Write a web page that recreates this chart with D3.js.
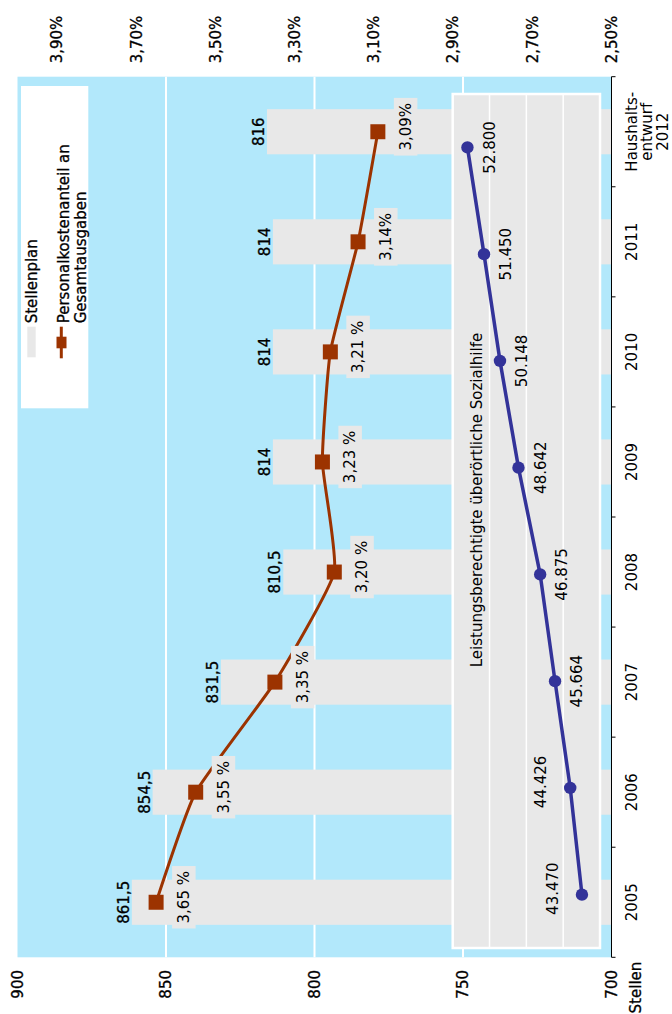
<!DOCTYPE html>
<html lang="de">
<head>
<meta charset="utf-8">
<title>Stellenplan und Personalkostenanteil</title>
<script src="https://cdn.jsdelivr.net/npm/d3@7/dist/d3.min.js"></script>
<style>
  html, body { margin: 0; padding: 0; background: #fff; }
  svg, svg text { font-family: "DejaVu Sans"; }
  svg { display: block; }
  .heavy { stroke: #000; stroke-width: 0.3px; paint-order: stroke; }
</style>
</head>
<body>
<svg id="chart" width="672" height="1014" font-family="DejaVu Sans"></svg>
<script>
/* ── Data ───────────────────────────────────────────────── */
const CATEGORIES      = ['2005', '2006', '2007', '2008', '2009', '2010', '2011', '2012'];
const CATEGORY_LINES  = [['2005'], ['2006'], ['2007'], ['2008'], ['2009'], ['2010'], ['2011'],
                         ['Haushalts-', 'entwurf', '2012']];
const STELLENPLAN     = [861.5, 854.5, 831.5, 810.5, 814, 814, 814, 816];
const PERSONAL_PCT    = [3.65, 3.55, 3.35, 3.20, 3.23, 3.21, 3.14, 3.09];
const PERSONAL_LABELS = ['3,65 %', '3,55 %', '3,35 %', '3,20 %', '3,23 %', '3,21 %', '3,14%', '3,09%'];
const LEISTUNG        = [43470, 44426, 45664, 46875, 48642, 50148, 51450, 52800];

const STELLEN_TICKS = [700, 750, 800, 850, 900];
const PCT_TICKS     = [2.5, 2.7, 2.9, 3.1, 3.3, 3.5, 3.7, 3.9];
const INSET_TICKS   = [42000, 45000, 48000, 51000, 54000];

/* ── Layout (unrotated frame, 1014 wide x 672 high) ─────── */
const FRAME = { w: 1014, h: 672 };
const PLOT  = { left: 56.7, right: 937.3, top: 17.5, bottom: 611.5 };
const INSET = { left: 66, right: 920, top: 452.7, bottom: 600 };

const C = {
  plotBg: '#b2e8fb',
  bar:    '#e8e8e8',
  orange: '#9c3300',
  blue:   '#333399',
  text:   '#000'
};

const de = d3.formatLocale({ decimal: ',', thousands: '.', grouping: [3], currency: ['', ' €'] });
const fmtStellen = de.format(',.1~f');
const fmtThousand = de.format(',');
const fmtPct = v => de.format('.2f')(v) + '%';

/* ── Scales ─────────────────────────────────────────────── */
const x = d3.scaleBand()
  .domain(CATEGORIES)
  .range([PLOT.left, PLOT.right])
  .paddingInner(0.59)
  .paddingOuter(0.295);

const yL = d3.scaleLinear().domain([700, 900]).range([PLOT.bottom, PLOT.top]);
const yR = d3.scaleLinear().domain([2.5, 4.0]).range([PLOT.bottom, PLOT.top]);

const xi = d3.scaleBand().domain(CATEGORIES).range([INSET.left, INSET.right]);
const yi = d3.scaleLinear().domain([42000, 54000]).range([INSET.bottom, INSET.top]);

const cx  = c => x(c) + x.bandwidth() / 2;
const cxi = c => xi(c) + xi.bandwidth() / 2;

/* ── Root: draw unrotated, then turn 90° counter-clockwise ─ */
const svg = d3.select('#chart');
const g = svg.append('g').attr('transform', `translate(0,${FRAME.w}) rotate(-90)`);

function drawPlotArea() {
  g.append('rect')
    .attr('x', PLOT.left).attr('y', PLOT.top)
    .attr('width', PLOT.right - PLOT.left)
    .attr('height', PLOT.bottom - PLOT.top)
    .attr('fill', C.plotBg);

  g.append('g').selectAll('line')
    .data(STELLEN_TICKS.filter(t => t > 700 && t < 900))
    .join('line')
    .attr('x1', PLOT.left).attr('x2', PLOT.right)
    .attr('y1', d => yL(d)).attr('y2', d => yL(d))
    .attr('stroke', '#fff').attr('stroke-width', 2);
}

/* ── Stellenplan bars ───────────────────────────────────── */
function drawBars() {
  const data = CATEGORIES.map((c, i) => ({ c, v: STELLENPLAN[i] }));

  g.append('g').selectAll('rect')
    .data(data)
    .join('rect')
    .attr('x', d => x(d.c))
    .attr('width', x.bandwidth())
    .attr('y', d => yL(d.v))
    .attr('height', d => yL(700) - yL(d.v))
    .attr('fill', C.bar);

  g.append('g').selectAll('text')
    .data(data)
    .join('text')
    .attr('class', 'heavy')
    .attr('x', d => cx(d.c))
    .attr('y', d => yL(d.v) - 3)
    .attr('text-anchor', 'middle')
    .attr('font-size', 15)
    .attr('fill', C.text)
    .text(d => fmtStellen(d.v));
}

/* ── Inset: Leistungsberechtigte ────────────────────────── */
function drawInset() {
  const ig = g.append('g');

  ig.append('rect')
    .attr('x', INSET.left).attr('y', INSET.top)
    .attr('width', INSET.right - INSET.left)
    .attr('height', INSET.bottom - INSET.top)
    .attr('fill', C.bar)
    .attr('stroke', '#fff').attr('stroke-width', 2.5);

  ig.selectAll('line.grid')
    .data(INSET_TICKS.slice(1, -1))
    .join('line')
    .attr('class', 'grid')
    .attr('x1', INSET.left).attr('x2', INSET.right)
    .attr('y1', d => yi(d)).attr('y2', d => yi(d))
    .attr('stroke', '#fff').attr('stroke-width', 1.5);

  ig.append('text')
    .attr('x', 514).attr('y', 476.7)
    .attr('dy', '0.35em')
    .attr('text-anchor', 'middle')
    .attr('font-size', 15)
    .attr('fill', C.text)
    .text('Leistungsberechtigte überörtliche Sozialhilfe');

  const data = CATEGORIES.map((c, i) => ({ c, v: LEISTUNG[i], i }));

  ig.append('path')
    .datum(data)
    .attr('fill', 'none')
    .attr('stroke', C.blue)
    .attr('stroke-width', 3.5)
    .attr('d', d3.line().x(d => cxi(d.c)).y(d => yi(d.v)));

  ig.selectAll('circle')
    .data(data)
    .join('circle')
    .attr('cx', d => cxi(d.c))
    .attr('cy', d => yi(d.v))
    .attr('r', 6.2)
    .attr('fill', C.blue);

  // first two labels sit above the line, the rest below
  ig.selectAll('text.val')
    .data(data)
    .join('text')
    .attr('class', 'val')
    .attr('x', d => cxi(d.c) + (d.i < 2 ? 6 : 0))
    .attr('y', d => yi(d.v) + (d.i < 2 ? -29 : 22))
    .attr('dy', '0.35em')
    .attr('text-anchor', 'middle')
    .attr('font-size', 15)
    .attr('fill', C.text)
    .text(d => fmtThousand(d.v));
}

/* ── Personalkostenanteil line ──────────────────────────── */
function drawPersonal() {
  const data = CATEGORIES.map((c, i) => ({ c, v: PERSONAL_PCT[i], label: PERSONAL_LABELS[i] }));

  g.append('path')
    .datum(data)
    .attr('fill', 'none')
    .attr('stroke', C.orange)
    .attr('stroke-width', 3)
    .attr('d', d3.line().curve(d3.curveCardinal.tension(0.55))
      .x(d => cx(d.c)).y(d => yR(d.v)));

  g.append('g').selectAll('rect')
    .data(data)
    .join('rect')
    .attr('x', d => cx(d.c) - 7.5)
    .attr('y', d => yR(d.v) - 7.5)
    .attr('width', 15).attr('height', 15)
    .attr('fill', C.orange);

  const lab = g.append('g').selectAll('g')
    .data(data)
    .join('g')
    .attr('transform', d => `translate(${cx(d.c) + 5},${yR(d.v) + 16})`);

  const boxes = lab.append('rect').attr('fill', C.bar);
  const texts = lab.append('text')
    .attr('y', 11.8)
    .attr('dy', '0.35em')
    .attr('text-anchor', 'middle')
    .attr('font-size', 15)
    .attr('fill', C.text)
    .text(d => d.label);

  texts.each(function(d, i) {
    const w = this.getComputedTextLength() + 10;
    d3.select(boxes.nodes()[i])
      .attr('x', -w / 2).attr('y', 0)
      .attr('width', w).attr('height', 23.5);
  });
}

/* ── Axes ───────────────────────────────────────────────── */
function drawAxes() {
  // category axis
  const ax = g.append('g');
  ax.append('line')
    .attr('x1', PLOT.left).attr('x2', PLOT.right)
    .attr('y1', PLOT.bottom).attr('y2', PLOT.bottom)
    .attr('stroke', '#000').attr('stroke-width', 1);

  ax.selectAll('line.tick')
    .data(d3.range(CATEGORIES.length + 1))
    .join('line')
    .attr('class', 'tick')
    .attr('x1', i => PLOT.left + i * x.step())
    .attr('x2', i => PLOT.left + i * x.step())
    .attr('y1', PLOT.bottom).attr('y2', PLOT.bottom + 4)
    .attr('stroke', '#000').attr('stroke-width', 1);

  ax.selectAll('text')
    .data(CATEGORIES.map((c, i) => ({ c, lines: CATEGORY_LINES[i] })))
    .join('text')
    .attr('text-anchor', 'middle')
    .attr('font-size', 15)
    .attr('fill', C.text)
    .each(function(d) {
      d3.select(this).selectAll('tspan')
        .data(d.lines)
        .join('tspan')
        .attr('x', cx(d.c))
        .attr('y', (_, j) => PLOT.bottom + 20 + j * 15.4)
        .attr('dy', '0.35em')
        .text(s => s);
    });

  // left axis: Stellen
  const al = g.append('g');
  al.selectAll('text')
    .data(STELLEN_TICKS)
    .join('text')
    .attr('class', 'heavy')
    .attr('x', PLOT.left - 12.7)
    .attr('y', d => yL(d))
    .attr('dy', '0.35em')
    .attr('text-anchor', 'end')
    .attr('font-size', 15)
    .attr('fill', C.text)
    .text(d => d);

  al.append('text')
    .attr('class', 'heavy')
    .attr('x', 52.3)
    .attr('y', 636)
    .attr('dy', '0.35em')
    .attr('text-anchor', 'end')
    .attr('font-size', 15)
    .attr('fill', C.text)
    .text('Stellen');

  // right axis: percent
  g.append('g').selectAll('text')
    .data(PCT_TICKS)
    .join('text')
    .attr('class', 'heavy')
    .attr('x', PLOT.right + 13.4)
    .attr('y', d => yR(d))
    .attr('dy', '0.35em')
    .attr('text-anchor', 'start')
    .attr('font-size', 15)
    .attr('fill', C.text)
    .text(d => fmtPct(d));
}

/* ── Legend ─────────────────────────────────────────────── */
function drawLegend() {
  const lg = g.append('g');
  lg.append('rect')
    .attr('x', 605.7).attr('y', 21)
    .attr('width', 322.3).attr('height', 67.3)
    .attr('fill', '#fff');

  lg.append('rect')
    .attr('x', 656.7).attr('y', 27.3)
    .attr('width', 30.6).attr('height', 8.4)
    .attr('fill', C.bar);

  lg.append('text')
    .attr('class', 'heavy')
    .attr('x', 690.7).attr('y', 32)
    .attr('dy', '0.35em')
    .attr('font-size', 15)
    .attr('fill', C.text)
    .text('Stellenplan');

  lg.append('line')
    .attr('x1', 655.7).attr('x2', 687.3)
    .attr('y1', 61.3).attr('y2', 61.3)
    .attr('stroke', C.orange).attr('stroke-width', 3);

  lg.append('rect')
    .attr('x', 665.7).attr('y', 56.5)
    .attr('width', 11.6).attr('height', 10)
    .attr('fill', C.orange);

  lg.append('text')
    .attr('class', 'heavy')
    .attr('font-size', 15)
    .attr('fill', C.text)
    .selectAll('tspan')
    .data(['Personalkostenanteil an', 'Gesamtausgaben'])
    .join('tspan')
    .attr('x', 690.7)
    .attr('y', (_, j) => 63.3 + j * 17.2)
    .attr('dy', '0.35em')
    .text(s => s);
}

/* ── Bootstrap ──────────────────────────────────────────── */
drawPlotArea();
drawBars();
drawInset();
drawPersonal();
drawAxes();
drawLegend();
</script>
</body>
</html>
